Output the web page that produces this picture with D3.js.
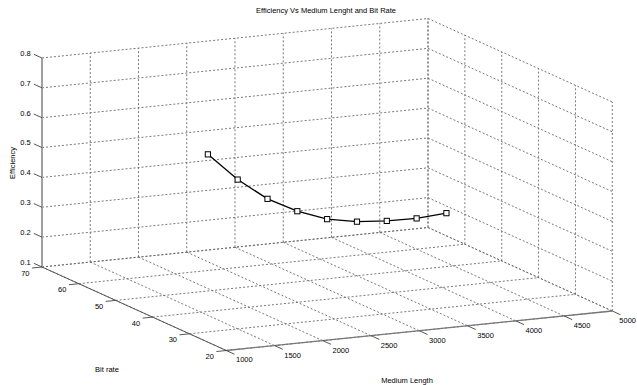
<!DOCTYPE html>
<html><head><meta charset="utf-8">
<script src="https://cdn.jsdelivr.net/npm/d3@7"></script>
<style>
body{margin:0;background:#fff}
text{font-family:"Liberation Sans",Arial,Helvetica,sans-serif;font-size:7.5px;fill:#000}
</style>
</head><body>
<svg id="chart" width="637" height="385"></svg>
<script>
// ---- data ----
const mediumLength = [1000, 1500, 2000, 2500, 3000, 3500, 4000, 4500, 5000];
const bitRate      = [25, 30, 35, 40, 45, 50, 55, 60, 65];
const efficiency   = [0.729, 0.600, 0.491, 0.405, 0.334, 0.281, 0.239, 0.203, 0.176];

const xTicks = [1000, 1500, 2000, 2500, 3000, 3500, 4000, 4500, 5000];
const yTicks = [20, 30, 40, 50, 60, 70];
const zTicks = [0.1, 0.2, 0.3, 0.4, 0.5, 0.6, 0.7, 0.8];
const zTickLabels = ["0.1","0.2","0.3","0.4","0.5","0.6","0.7","0.8"];

const titleText = "Efficiency Vs Medium Lenght and Bit Rate";
const xLabel = "Medium Length", yLabel = "Bit rate", zLabel = "Efficiency";

// ---- projection (orthographic 3D view) ----
const W = 637;
const svg = d3.select("#chart");
const sx = d3.scaleLinear().domain([1000, 5000]).range([0, 1]);
const sy = d3.scaleLinear().domain([70, 20]).range([0, 1]);
const sz = d3.scaleLinear().domain([0.1, 0.8]).range([0, 1]);
const O  = [42, 267];
const VX = [386, -39.5];
const VY = [184.3, 83.5];
const VZ = [0, -209];
function P(x, y, z) {
  const a = sx(x), b = sy(y), c = sz(z);
  return [O[0] + a*VX[0] + b*VY[0] + c*VZ[0], O[1] + a*VX[1] + b*VY[1] + c*VZ[1]];
}
function unit(v){const l=Math.hypot(v[0],v[1]);return [v[0]/l,v[1]/l];}
const uX = unit(VX), uY = unit(VY);

const gGrid = svg.append("g").attr("fill","none").attr("stroke","#6a6a6a")
  .attr("stroke-width",0.9).attr("stroke-dasharray","2,2");
function seg(g, p, q){ g.append("line").attr("x1",p[0]).attr("y1",p[1]).attr("x2",q[0]).attr("y2",q[1]); }

const [x0,x1] = sx.domain(), [y0,y1] = sy.domain(), [z0,z1] = sz.domain();
// back wall (y = 70)
xTicks.forEach(x => seg(gGrid, P(x,y0,z0), P(x,y0,z1)));
zTicks.forEach(z => seg(gGrid, P(x0,y0,z), P(x1,y0,z)));
// side wall (x = 5000)
yTicks.forEach(y => seg(gGrid, P(x1,y,z0), P(x1,y,z1)));
zTicks.forEach(z => seg(gGrid, P(x1,y0,z), P(x1,y1,z)));
// floor (z = 0.1)
xTicks.forEach(x => seg(gGrid, P(x,y0,z0), P(x,y1,z0)));
yTicks.forEach(y => seg(gGrid, P(x0,y,z0), P(x1,y,z0)));

// ---- axes ----
const gAx = svg.append("g").attr("fill","none");
seg(gAx.append("g").attr("stroke","#a0a0a0").attr("stroke-width",2), P(x0,y0,z0), P(x0,y0,z1));
seg(gAx.append("g").attr("stroke","#555").attr("stroke-width",1), P(x0,y0,z0), P(x0,y1,z0));
seg(gAx.append("g").attr("stroke","#777").attr("stroke-width",1.3), P(x0,y1,z0), P(x1,y1,z0));

const gT = svg.append("g").attr("stroke","#444").attr("stroke-width",0.9);
const gL = svg.append("g");
// z ticks
zTicks.forEach((z,i) => {
  const p = P(x0,y0,z), q = [p[0]-uY[0]*9, p[1]-uY[1]*9];
  seg(gT, p, q);
  gL.append("text").attr("x", q[0]-3).attr("y", q[1]-1).attr("dy","0.35em")
    .attr("text-anchor","end").text(zTickLabels[i]);
});
// bit rate ticks
yTicks.forEach(y => {
  const p = P(x0,y,z0), q = [p[0]-uX[0]*10, p[1]-uX[1]*10];
  seg(gT, p, q);
  gL.append("text").attr("x", q[0]-2.5).attr("y", q[1]+5).attr("dy","0.35em")
    .attr("text-anchor","end").text(y);
});
// medium length ticks
xTicks.forEach(x => {
  const p = P(x,y1,z0), q = [p[0]+uY[0]*9, p[1]+uY[1]*9];
  seg(gT, p, q);
  const t = gL.append("text").attr("x", q[0]+1.5).attr("y", q[1]+5.6).attr("dy","0.35em")
    .attr("text-anchor","start").text(x);
  const w = t.node().getComputedTextLength();
  if (q[0] + 1.5 + w > W - 1) t.attr("x", W - 1 - w);
});

// ---- data line ----
const pts = mediumLength.map((x,i) => P(x, bitRate[i], efficiency[i]));
svg.append("path").attr("d", d3.line()(pts)).attr("fill","none")
  .attr("stroke","#000").attr("stroke-width",1.3);
svg.append("g").selectAll("rect").data(pts).join("rect")
  .attr("x", d => d[0]-2.6).attr("y", d => d[1]-2.6).attr("width",5.2).attr("height",5.2)
  .attr("fill","#fff").attr("stroke","#000").attr("stroke-width",1);

// ---- titles ----
svg.append("text").attr("x",326).attr("y",10).attr("dy","0.35em").attr("text-anchor","middle").text(titleText);
svg.append("text").attr("transform","translate(12,163) rotate(-90)").attr("dy","0.35em")
  .attr("text-anchor","middle").text(zLabel);
svg.append("text").attr("x",107).attr("y",369).attr("dy","0.35em").attr("text-anchor","middle").text(yLabel);
svg.append("text").attr("x",407).attr("y",380).attr("dy","0.35em").attr("text-anchor","middle").text(xLabel);
</script>
</body></html>
